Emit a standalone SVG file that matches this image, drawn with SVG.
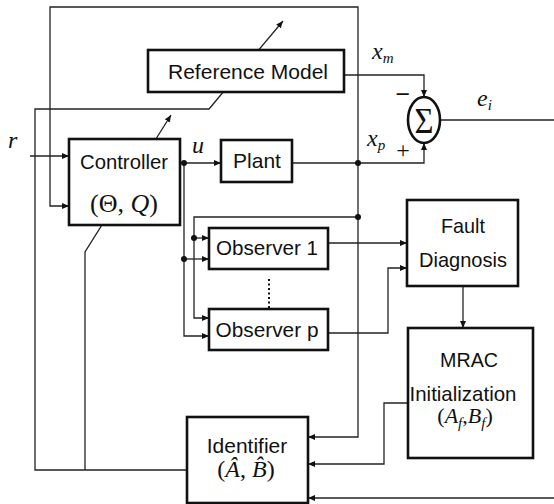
<svg xmlns="http://www.w3.org/2000/svg" width="554" height="504" viewBox="0 0 554 504">
<style>
.box{fill:#fff;stroke:#111;stroke-width:2.6}
.ln{fill:none;stroke:#222;stroke-width:1.3}
.t{font-family:"Liberation Sans",Arial,sans-serif;font-size:21px;fill:#111;text-anchor:middle}
.m{font-family:"Liberation Serif","Times New Roman",serif;font-style:italic;fill:#111}
.mu{font-family:"Liberation Serif","Times New Roman",serif;fill:#111}
.dot{fill:#111}
</style>
<defs>
<marker id="ah" markerUnits="userSpaceOnUse" markerWidth="8" markerHeight="7" refX="7" refY="3" orient="auto">
<path d="M0,0 L7,3 L0,6 z" fill="#111"/>
</marker>
</defs>
<g id="connectors">
<path class="ln" d="M30,156 H69" marker-end="url(#ah)"/>
<path class="ln" d="M358,163 V7 H50 V206 H69" marker-end="url(#ah)"/>
<path class="ln" d="M358,163 V437 H308" marker-end="url(#ah)"/>
<path class="ln" d="M292,163 H424 V143" marker-end="url(#ah)"/>
<path class="ln" d="M344,75 H424 V97" marker-end="url(#ah)"/>
<path class="ln" d="M440,120 H554"/>
<path class="ln" d="M180,163 H221" marker-end="url(#ah)"/>
<path class="ln" d="M184,163 V336 H209" marker-end="url(#ah)"/>
<path class="ln" d="M184,259 H209" marker-end="url(#ah)"/>
<path class="ln" d="M358,217 H194 V318 H209" marker-end="url(#ah)"/>
<path class="ln" d="M194,238 H209" marker-end="url(#ah)"/>
<path class="ln" d="M328,243 H407" marker-end="url(#ah)"/>
<path class="ln" d="M328,333 H388 V268 H407" marker-end="url(#ah)"/>
<path class="ln" d="M463,286 V328" marker-end="url(#ah)"/>
<path class="ln" d="M408,403 H384 V464 H308" marker-end="url(#ah)"/>
<path class="ln" d="M554,498 H308" marker-end="url(#ah)"/>
<path class="ln" d="M187,470 H35 V109 H209 L283,21" marker-end="url(#ah)"/>
<path class="ln" d="M85,470 V252 L171,115" marker-end="url(#ah)"/>
<path d="M269,279 V308" fill="none" stroke="#111" stroke-width="2" stroke-dasharray="2,2.5"/>
<circle class="dot" cx="184" cy="163" r="3"/>
<circle class="dot" cx="358" cy="163" r="3"/>
<circle class="dot" cx="358" cy="217" r="3"/>
<circle class="dot" cx="194" cy="238" r="3"/>
<circle class="dot" cx="184" cy="259" r="3"/>
</g>
<g id="refmodel">
<rect class="box" x="148" y="50" width="196" height="42"/>
<text class="t" x="248" y="79" textLength="160" lengthAdjust="spacingAndGlyphs">Reference Model</text>
</g>
<g id="controller">
<rect class="box" x="69" y="139" width="111" height="86"/>
<text class="t" x="124" y="169" textLength="88" lengthAdjust="spacingAndGlyphs">Controller</text>
<text class="mu" x="124" y="212" font-size="26" text-anchor="middle">(Θ, <tspan class="m">Q</tspan>)</text>
</g>
<g id="plant">
<rect class="box" x="221" y="140" width="71" height="42"/>
<text class="t" x="257" y="168">Plant</text>
</g>
<g id="sum">
<ellipse cx="424" cy="120" rx="16" ry="23" fill="#fff" stroke="#111" stroke-width="2.6"/>
<text class="mu" x="424" y="133" font-size="36" text-anchor="middle" textLength="19" lengthAdjust="spacingAndGlyphs">Σ</text>
</g>
<g id="observer1">
<rect class="box" x="209" y="228" width="119" height="41"/>
<text class="t" x="267" y="255" textLength="102" lengthAdjust="spacingAndGlyphs">Observer  1</text>
</g>
<g id="observerp">
<rect class="box" x="209" y="309" width="119" height="41"/>
<text class="t" x="267" y="337" textLength="103" lengthAdjust="spacingAndGlyphs">Observer  p</text>
</g>
<g id="fault">
<rect class="box" x="407" y="200" width="111" height="86"/>
<text class="t" x="463" y="233" textLength="44" lengthAdjust="spacingAndGlyphs">Fault</text>
<text class="t" x="463" y="267" textLength="88" lengthAdjust="spacingAndGlyphs">Diagnosis</text>
</g>
<g id="mrac">
<rect class="box" x="408" y="328" width="125" height="130"/>
<text class="t" x="469" y="367" textLength="58" lengthAdjust="spacingAndGlyphs">MRAC</text>
<text class="t" x="463" y="401" textLength="107" lengthAdjust="spacingAndGlyphs">Initialization</text>
<text class="mu" x="465" y="423" font-size="22" text-anchor="middle">(<tspan class="m">A</tspan><tspan class="m" font-size="15" dy="5">f</tspan><tspan dy="-5">,</tspan><tspan class="m">B</tspan><tspan class="m" font-size="15" dy="5">f</tspan><tspan dy="-5">)</tspan></text>
</g>
<g id="identifier">
<rect class="box" x="187" y="417" width="121" height="86"/>
<text class="t" x="247" y="453">Identifier</text>
<text class="mu" x="246" y="477" font-size="24" text-anchor="middle">(<tspan class="m">Â</tspan>, <tspan class="m">B̂</tspan>)</text>
</g>
<g id="labels">
<text class="m" x="8" y="148" font-size="24">r</text>
<text class="m" x="192" y="153" font-size="24">u</text>
<text class="m" x="372" y="59" font-size="24">x<tspan font-size="15" dy="4">m</tspan></text>
<text class="m" x="367" y="146" font-size="24">x<tspan font-size="15" dy="4">p</tspan></text>
<text class="m" x="477" y="106" font-size="24">e<tspan font-size="15" dy="4">i</tspan></text>
<text class="mu" x="403" y="103" font-size="26" font-weight="bold" text-anchor="middle">−</text>
<text class="mu" x="403" y="158" font-size="24" text-anchor="middle">+</text>
</g>
</svg>
